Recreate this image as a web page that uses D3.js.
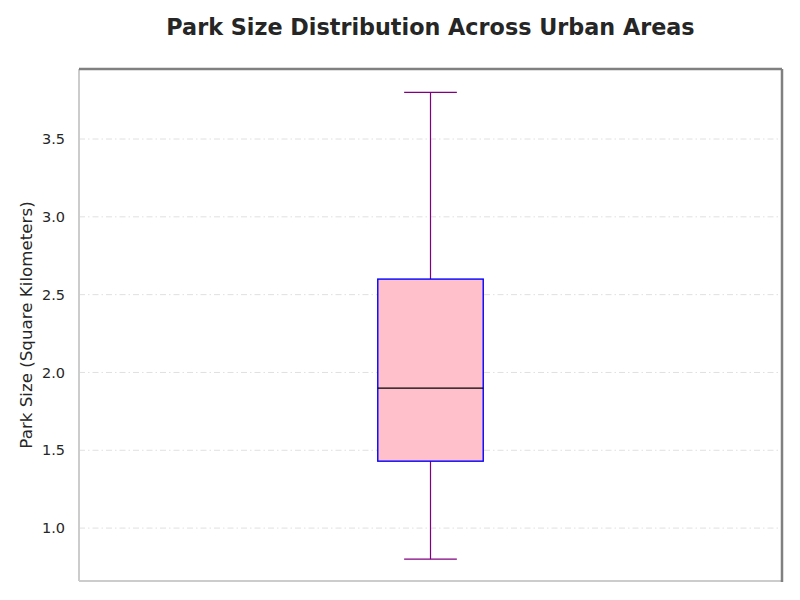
<!DOCTYPE html>
<html>
<head>
<meta charset="utf-8">
<script src="https://cdn.jsdelivr.net/npm/d3@7"></script>
<style>
  html, body { margin: 0; padding: 0; background: #fff; }
  svg { display: block; font-family: "DejaVu Sans", sans-serif; }
</style>
</head>
<body>
<svg id="chart" width="800" height="600"></svg>
<script>
const categories = ["Urban Parks"];
const whiskerLow = [0.8];
const q1Values = [1.43];
const medianValues = [1.9];
const q3Values = [2.6];
const whiskerHigh = [3.8];
const yTicks = [1.0, 1.5, 2.0, 2.5, 3.0, 3.5];
const yDomain = [0.66, 3.95];

const svg = d3.select("#chart");
const margin = { left: 79, right: 18, top: 69, bottom: 19 };
const W = 800, H = 600;
const iw = W - margin.left - margin.right;
const ih = H - margin.top - margin.bottom;

const g = svg.append("g").attr("transform", `translate(${margin.left},${margin.top})`);

const x = d3.scaleLinear().domain([0.5, 1.5]).range([0, iw]);
const y = d3.scaleLinear().domain(yDomain).range([ih, 0]);

// grid
g.append("g").selectAll("line").data(yTicks).join("line")
  .attr("x1", 0).attr("x2", iw)
  .attr("y1", d => y(d)).attr("y2", d => y(d))
  .attr("stroke", "#e0e0e0").attr("stroke-width", 1)
  .attr("stroke-dasharray", "6,3,1.5,3");

// y axis
const yAxis = g.append("g").call(d3.axisLeft(y).tickValues(yTicks).tickFormat(d3.format(".1f")).tickSize(0).tickPadding(14));
yAxis.select(".domain").remove();
yAxis.selectAll("text").attr("font-size", 14.5).attr("fill", "#262626").attr("font-family", "DejaVu Sans, sans-serif");

// spines
g.append("line").attr("x1", 0).attr("x2", 0).attr("y1", 0).attr("y2", ih).attr("stroke", "#cccccc").attr("stroke-width", 2);
g.append("line").attr("x1", 0).attr("x2", iw).attr("y1", ih).attr("y2", ih).attr("stroke", "#cccccc").attr("stroke-width", 2);
g.append("line").attr("x1", 0).attr("x2", iw).attr("y1", 0).attr("y2", 0).attr("stroke", "#808080").attr("stroke-width", 2.5);
g.append("line").attr("x1", iw).attr("x2", iw).attr("y1", 0).attr("y2", ih+1).attr("stroke", "#808080").attr("stroke-width", 2.5);

// box
const boxW = 0.15, capW = 0.075;
categories.forEach((c, i) => {
  const cx = 1 + i;
  g.append("line").attr("x1", x(cx)).attr("x2", x(cx)).attr("y1", y(q3Values[i])).attr("y2", y(whiskerHigh[i]))
    .attr("stroke", "#800080").attr("stroke-width", 1.2);
  g.append("line").attr("x1", x(cx)).attr("x2", x(cx)).attr("y1", y(q1Values[i])).attr("y2", y(whiskerLow[i]))
    .attr("stroke", "#800080").attr("stroke-width", 1.2);
  [whiskerHigh[i], whiskerLow[i]].forEach(v => {
    g.append("line").attr("x1", x(cx - capW/2)).attr("x2", x(cx + capW/2))
      .attr("y1", y(v)).attr("y2", y(v)).attr("stroke", "#800080").attr("stroke-width", 1.2);
  });
  g.append("rect").attr("x", x(cx - boxW/2)).attr("width", x(cx + boxW/2) - x(cx - boxW/2))
    .attr("y", y(q3Values[i])).attr("height", y(q1Values[i]) - y(q3Values[i]))
    .attr("fill", "#ffc0cb").attr("stroke", "#0000ff").attr("stroke-width", 1.4);
  g.append("line").attr("x1", x(cx - boxW/2)).attr("x2", x(cx + boxW/2))
    .attr("y1", y(medianValues[i])).attr("y2", y(medianValues[i]))
    .attr("stroke", "#000000").attr("stroke-width", 1.2);
});

// title
svg.append("text").attr("x", 430.5).attr("y", 35).attr("text-anchor", "middle")
  .attr("font-size", 22.3).attr("font-weight", "bold").attr("fill", "#262626")
  .text("Park Size Distribution Across Urban Areas");

// y label
svg.append("text").attr("transform", `translate(32,${margin.top + ih/2}) rotate(-90)`)
  .attr("text-anchor", "middle").attr("font-size", 16.7).attr("fill", "#262626")
  .text("Park Size (Square Kilometers)");
</script>
</body>
</html>
